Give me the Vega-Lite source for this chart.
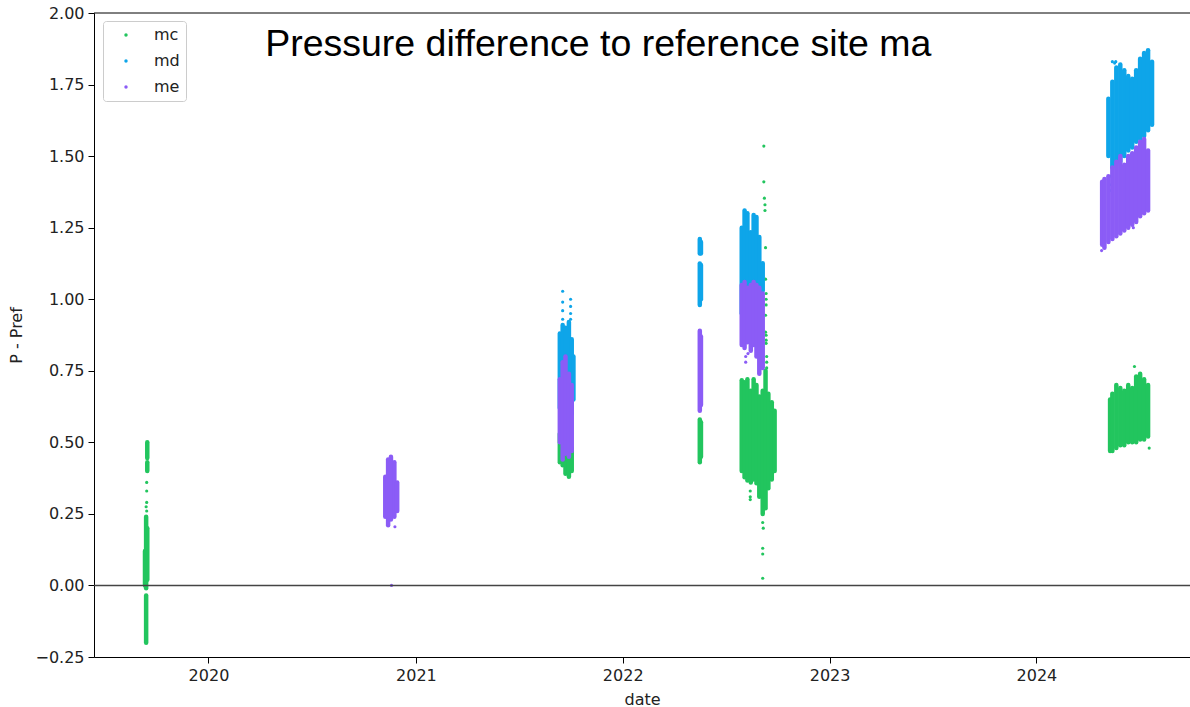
{
  "$schema": "https://vega.github.io/schema/vega-lite/v6.json",
  "autosize": {"type": "none"},
  "padding": {"left": 94, "top": 13, "right": 0, "bottom": 50},
  "width": 1096,
  "height": 644,
  "background": "white",
  "config": {
    "view": {"stroke": null},
    "font": "DejaVu Sans",
    "axis": {
      "domainColor": "#000000",
      "domainWidth": 1,
      "tickColor": "#000000",
      "tickSize": 6,
      "tickWidth": 1,
      "labelFont": "DejaVu Sans",
      "labelFontSize": 16,
      "labelColor": "#222222",
      "titleFont": "DejaVu Sans",
      "titleFontSize": 16,
      "titleFontWeight": "normal",
      "titleColor": "#222222",
      "grid": false,
      "labelPadding": 4
    },
    "legend": {
      "title": null,
      "orient": "none",
      "legendX": 9,
      "legendY": 8,
      "symbolType": "circle",
      "symbolSize": 12,
      "symbolOffset": 9,
      "symbolStrokeWidth": 0,
      "labelOffset": 20,
      "labelFont": "DejaVu Sans",
      "labelFontSize": 16,
      "labelColor": "#222222",
      "rowPadding": 10,
      "padding": 6,
      "fillColor": "#ffffff",
      "strokeColor": "#cccccc",
      "cornerRadius": 3
    }
  },
  "datasets": {
    "spans": [
      {"s":"mc","d":"2019-09-11","lo":0.0,"hi":0.12},
      {"s":"mc","d":"2019-09-13","lo":-0.2,"hi":-0.035},
      {"s":"mc","d":"2019-09-13","lo":-0.01,"hi":0.24},
      {"s":"mc","d":"2019-09-15","lo":0.02,"hi":0.2},
      {"s":"mc","d":"2019-09-15","lo":0.4,"hi":0.43},
      {"s":"mc","d":"2019-09-15","lo":0.445,"hi":0.5},

      {"s":"mc","d":"2021-09-12","lo":0.43,"hi":0.53},
      {"s":"mc","d":"2021-09-17","lo":0.42,"hi":0.5},
      {"s":"mc","d":"2021-09-22","lo":0.39,"hi":0.47},
      {"s":"mc","d":"2021-09-28","lo":0.38,"hi":0.46},
      {"s":"mc","d":"2021-10-03","lo":0.4,"hi":0.48},

      {"s":"mc","d":"2022-05-17","lo":0.43,"hi":0.58},
      {"s":"mc","d":"2022-05-19","lo":0.45,"hi":0.57},

      {"s":"mc","d":"2022-07-30","lo":0.4,"hi":0.717},
      {"s":"mc","d":"2022-08-04","lo":0.378,"hi":0.71},
      {"s":"mc","d":"2022-08-09","lo":0.367,"hi":0.72},
      {"s":"mc","d":"2022-08-15","lo":0.36,"hi":0.68},
      {"s":"mc","d":"2022-08-20","lo":0.37,"hi":0.72},
      {"s":"mc","d":"2022-08-25","lo":0.357,"hi":0.7},
      {"s":"mc","d":"2022-08-30","lo":0.31,"hi":0.66},
      {"s":"mc","d":"2022-09-05","lo":0.25,"hi":0.68},
      {"s":"mc","d":"2022-09-10","lo":0.27,"hi":0.75},
      {"s":"mc","d":"2022-09-15","lo":0.34,"hi":0.67},
      {"s":"mc","d":"2022-09-21","lo":0.37,"hi":0.64},
      {"s":"mc","d":"2022-09-26","lo":0.4,"hi":0.61},

      {"s":"mc","d":"2024-05-10","lo":0.47,"hi":0.65},
      {"s":"mc","d":"2024-05-14","lo":0.47,"hi":0.67},
      {"s":"mc","d":"2024-05-21","lo":0.48,"hi":0.7},
      {"s":"mc","d":"2024-05-28","lo":0.49,"hi":0.69},
      {"s":"mc","d":"2024-06-04","lo":0.49,"hi":0.68},
      {"s":"mc","d":"2024-06-11","lo":0.5,"hi":0.7},
      {"s":"mc","d":"2024-06-18","lo":0.5,"hi":0.69},
      {"s":"mc","d":"2024-06-25","lo":0.5,"hi":0.73},
      {"s":"mc","d":"2024-07-02","lo":0.51,"hi":0.74},
      {"s":"mc","d":"2024-07-09","lo":0.51,"hi":0.72},
      {"s":"mc","d":"2024-07-16","lo":0.52,"hi":0.7},

      {"s":"md","d":"2021-09-12","lo":0.62,"hi":0.88},
      {"s":"md","d":"2021-09-17","lo":0.6,"hi":0.91},
      {"s":"md","d":"2021-09-22","lo":0.62,"hi":0.9},
      {"s":"md","d":"2021-09-28","lo":0.6,"hi":0.92},
      {"s":"md","d":"2021-10-03","lo":0.6,"hi":0.86},
      {"s":"md","d":"2021-10-06","lo":0.65,"hi":0.8},

      {"s":"md","d":"2022-05-17","lo":0.98,"hi":1.125},
      {"s":"md","d":"2022-05-17","lo":1.16,"hi":1.21},
      {"s":"md","d":"2022-05-19","lo":1.0,"hi":1.12},
      {"s":"md","d":"2022-05-19","lo":1.16,"hi":1.2},

      {"s":"md","d":"2022-07-30","lo":0.95,"hi":1.25},
      {"s":"md","d":"2022-08-04","lo":0.95,"hi":1.31},
      {"s":"md","d":"2022-08-09","lo":0.95,"hi":1.3},
      {"s":"md","d":"2022-08-15","lo":0.95,"hi":1.234},
      {"s":"md","d":"2022-08-20","lo":0.95,"hi":1.294},
      {"s":"md","d":"2022-08-25","lo":0.95,"hi":1.287},
      {"s":"md","d":"2022-08-30","lo":0.95,"hi":1.217},
      {"s":"md","d":"2022-09-05","lo":1.03,"hi":1.126},

      {"s":"md","d":"2024-05-07","lo":1.5,"hi":1.7},
      {"s":"md","d":"2024-05-14","lo":1.46,"hi":1.76},
      {"s":"md","d":"2024-05-21","lo":1.47,"hi":1.81},
      {"s":"md","d":"2024-05-28","lo":1.48,"hi":1.82},
      {"s":"md","d":"2024-06-04","lo":1.5,"hi":1.8},
      {"s":"md","d":"2024-06-11","lo":1.52,"hi":1.78},
      {"s":"md","d":"2024-06-18","lo":1.53,"hi":1.77},
      {"s":"md","d":"2024-06-25","lo":1.55,"hi":1.8},
      {"s":"md","d":"2024-07-02","lo":1.56,"hi":1.84},
      {"s":"md","d":"2024-07-09","lo":1.57,"hi":1.86},
      {"s":"md","d":"2024-07-16","lo":1.59,"hi":1.87},
      {"s":"md","d":"2024-07-23","lo":1.61,"hi":1.83},

      {"s":"me","d":"2020-11-08","lo":0.24,"hi":0.38},
      {"s":"me","d":"2020-11-13","lo":0.21,"hi":0.44},
      {"s":"me","d":"2020-11-18","lo":0.23,"hi":0.45},
      {"s":"me","d":"2020-11-24","lo":0.24,"hi":0.43},
      {"s":"me","d":"2020-11-29","lo":0.26,"hi":0.36},

      {"s":"me","d":"2021-09-12","lo":0.5,"hi":0.72},
      {"s":"me","d":"2021-09-17","lo":0.44,"hi":0.78},
      {"s":"me","d":"2021-09-22","lo":0.46,"hi":0.8},
      {"s":"me","d":"2021-09-28","lo":0.45,"hi":0.74},
      {"s":"me","d":"2021-10-03","lo":0.47,"hi":0.7},

      {"s":"me","d":"2022-05-17","lo":0.61,"hi":0.89},
      {"s":"me","d":"2022-05-19","lo":0.63,"hi":0.87},

      {"s":"me","d":"2022-07-30","lo":0.84,"hi":1.05},
      {"s":"me","d":"2022-08-04","lo":0.83,"hi":1.06},
      {"s":"me","d":"2022-08-09","lo":0.85,"hi":1.04},
      {"s":"me","d":"2022-08-15","lo":0.82,"hi":1.05},
      {"s":"me","d":"2022-08-20","lo":0.84,"hi":1.06},
      {"s":"me","d":"2022-08-25","lo":0.8,"hi":1.05},
      {"s":"me","d":"2022-08-30","lo":0.74,"hi":1.04},
      {"s":"me","d":"2022-09-05","lo":0.76,"hi":1.02},

      {"s":"me","d":"2024-04-26","lo":1.19,"hi":1.41},
      {"s":"me","d":"2024-04-30","lo":1.18,"hi":1.42},
      {"s":"me","d":"2024-05-07","lo":1.2,"hi":1.43},
      {"s":"me","d":"2024-05-14","lo":1.21,"hi":1.46},
      {"s":"me","d":"2024-05-21","lo":1.22,"hi":1.48},
      {"s":"me","d":"2024-05-28","lo":1.23,"hi":1.5},
      {"s":"me","d":"2024-06-04","lo":1.24,"hi":1.47},
      {"s":"me","d":"2024-06-11","lo":1.25,"hi":1.5},
      {"s":"me","d":"2024-06-18","lo":1.26,"hi":1.51},
      {"s":"me","d":"2024-06-25","lo":1.27,"hi":1.53},
      {"s":"me","d":"2024-07-02","lo":1.29,"hi":1.55},
      {"s":"me","d":"2024-07-09","lo":1.3,"hi":1.56},
      {"s":"me","d":"2024-07-16","lo":1.31,"hi":1.52}
    ],
    "pts": [
      {"s":"mc","d":"2019-09-14","v":0.36},
      {"s":"mc","d":"2019-09-14","v":0.33},
      {"s":"mc","d":"2019-09-14","v":0.29},
      {"s":"mc","d":"2019-09-14","v":0.26},
      {"s":"mc","d":"2019-09-13","v":0.275},
      {"s":"mc","d":"2022-09-07","v":1.535},
      {"s":"mc","d":"2022-09-07","v":1.41},
      {"s":"mc","d":"2022-09-08","v":1.353},
      {"s":"mc","d":"2022-09-09","v":1.33},
      {"s":"mc","d":"2022-09-09","v":1.31},
      {"s":"mc","d":"2022-09-10","v":1.18},
      {"s":"mc","d":"2022-09-10","v":1.07},
      {"s":"mc","d":"2022-09-11","v":1.02},
      {"s":"mc","d":"2022-09-11","v":1.0},
      {"s":"mc","d":"2022-09-11","v":0.98},
      {"s":"mc","d":"2022-09-10","v":0.944},
      {"s":"mc","d":"2022-09-10","v":0.885},
      {"s":"mc","d":"2022-09-11","v":0.874},
      {"s":"mc","d":"2022-09-11","v":0.857},
      {"s":"mc","d":"2022-09-11","v":0.846},
      {"s":"mc","d":"2022-09-12","v":0.8},
      {"s":"mc","d":"2022-09-12","v":0.78},
      {"s":"mc","d":"2022-09-12","v":0.76},
      {"s":"mc","d":"2022-09-05","v":0.22},
      {"s":"mc","d":"2022-09-06","v":0.2},
      {"s":"mc","d":"2022-09-05","v":0.13},
      {"s":"mc","d":"2022-09-05","v":0.11},
      {"s":"mc","d":"2022-09-05","v":0.025},
      {"s":"mc","d":"2022-08-14","v":0.33},
      {"s":"mc","d":"2022-08-14","v":0.31},
      {"s":"mc","d":"2022-08-14","v":0.3},
      {"s":"mc","d":"2024-06-22","v":0.765},
      {"s":"mc","d":"2024-07-18","v":0.48},
      {"s":"md","d":"2021-09-17","v":1.028},
      {"s":"md","d":"2021-09-17","v":0.99},
      {"s":"md","d":"2021-09-17","v":0.96},
      {"s":"md","d":"2021-09-17","v":0.93},
      {"s":"md","d":"2021-10-01","v":1.0},
      {"s":"md","d":"2021-10-01","v":0.975},
      {"s":"md","d":"2021-10-01","v":0.95},
      {"s":"md","d":"2021-10-01","v":0.93},
      {"s":"md","d":"2024-05-14","v":1.83},
      {"s":"md","d":"2024-05-18","v":1.825},
      {"s":"md","d":"2024-05-20","v":1.83},
      {"s":"md","d":"2024-05-12","v":1.43},
      {"s":"md","d":"2024-05-12","v":1.4},
      {"s":"md","d":"2024-05-12","v":1.38},
      {"s":"me","d":"2020-11-19","v":0.0},
      {"s":"me","d":"2020-11-25","v":0.205},
      {"s":"me","d":"2022-08-06","v":0.8},
      {"s":"me","d":"2022-08-06","v":0.78},
      {"s":"me","d":"2022-08-10","v":0.81},
      {"s":"me","d":"2022-08-24","v":1.15},
      {"s":"me","d":"2024-04-25","v":1.17},
      {"s":"me","d":"2024-06-20","v":1.25}
    ],
    "one": [{}]
  },
  "layer": [
    {
      "data": {"name": "pts"},
      "mark": {"type": "point", "filled": true, "size": 10, "opacity": 1},
      "encoding": {
        "x": {
          "field": "d", "type": "temporal", "title": "date",
          "scale": {"domain": [{"year": 2019, "month": 6, "date": 13}, {"year": 2024, "month": 9, "date": 28}]},
          "axis": {
            "values": [{"year": 2020, "month": 1, "date": 1}, {"year": 2021, "month": 1, "date": 1}, {"year": 2022, "month": 1, "date": 1}, {"year": 2023, "month": 1, "date": 1}, {"year": 2024, "month": 1, "date": 1}],
            "format": "%Y", "labelFlush": false, "titlePadding": 8
          }
        },
        "y": {
          "field": "v", "type": "quantitative", "title": "P - Pref",
          "scale": {"domain": [-0.25, 2.0], "nice": false, "zero": false},
          "axis": {
            "values": [-0.25, 0, 0.25, 0.5, 0.75, 1.0, 1.25, 1.5, 1.75, 2.0],
            "format": ".2f", "labelFlush": false, "titlePadding": 10
          }
        },
        "color": {
          "field": "s", "type": "nominal",
          "scale": {"domain": ["mc", "md", "me"], "range": ["#22c55e", "#0ea5e9", "#8b5cf6"]}
        }
      }
    },
    {
      "data": {"name": "spans"},
      "mark": {"type": "rule", "strokeWidth": 4.5, "strokeCap": "round"},
      "encoding": {
        "x": {"field": "d", "type": "temporal"},
        "y": {"field": "lo", "type": "quantitative"},
        "y2": {"field": "hi"},
        "color": {"field": "s", "type": "nominal"}
      }
    },
    {
      "data": {"name": "one"},
      "mark": {"type": "rule", "color": "#444444", "strokeWidth": 1.5},
      "encoding": {"y": {"datum": 0}}
    },
    {
      "data": {"name": "one"},
      "mark": {"type": "rule", "color": "#000000", "strokeWidth": 1},
      "encoding": {"y": {"datum": 2.0}}
    },
    {
      "data": {"name": "one"},
      "mark": {"type": "text", "text": "Pressure difference to reference site ma", "font": "Liberation Sans", "fontSize": 37.5, "align": "left", "baseline": "alphabetic", "color": "#000000"},
      "encoding": {
        "x": {"datum": {"year": 2020, "month": 4, "date": 10}},
        "y": {"datum": 1.85}
      }
    }
  ]
}
